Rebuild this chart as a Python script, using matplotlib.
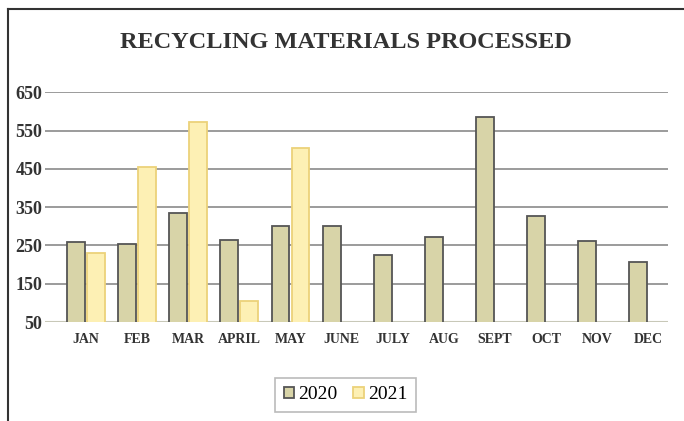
import matplotlib.pyplot as plt
import numpy as np

months = ['JAN', 'FEB', 'MAR', 'APRIL', 'MAY', 'JUNE', 'JULY', 'AUG',
          'SEPT', 'OCT', 'NOV', 'DEC']
vals_2020 = [258, 255, 335, 264, 300, 300, 225, 272, 585, 327, 261, 207]
vals_2021 = [230, 455, 572, 105, 504, 0, 0, 0, 0, 0, 0, 0]
yticks = [50, 150, 250, 350, 450, 550, 650]

plt.rcParams['font.family'] = ['Liberation Serif', 'DejaVu Serif']

fig = plt.figure(figsize=(6.84, 4.21), dpi=100)
ax = fig.add_axes([0.066, 0.235, 0.911, 0.546])

x = np.arange(len(months))
w = 0.35
ax.bar(x - w / 2 - 0.02, vals_2020, w, color='#d8d4a8', edgecolor='#555555',
       linewidth=1.3, label='2020', zorder=3)
ax.bar(x + w / 2 + 0.02, vals_2021, w, color='#fdf0b4', edgecolor='#ecd27a',
       linewidth=1.3, label='2021', zorder=3)

ax.set_ylim(50, 650)
ax.set_xlim(-0.8, 11.39)
ax.set_yticks(yticks)
ax.set_yticklabels([str(v) for v in yticks], fontsize=13, fontweight='bold',
                   color='#333333')
ax.set_xticks(x)
ax.set_xticklabels(months, fontsize=10, fontweight='bold', color='#333333')
ax.tick_params(length=0)
ax.tick_params(axis='y', pad=2)
ax.tick_params(axis='x', pad=8)

ax.grid(axis='y', color='#8a8a8a', linewidth=1.2, zorder=0)
for s in ax.spines.values():
    s.set_visible(False)
ax.axhline(50, color='#c8c8b8', linewidth=1.5, zorder=2)

fig.text(0.505, 0.898, 'RECYCLING MATERIALS PROCESSED', ha='center', va='center',
         fontsize=17.5, fontweight='bold', color='#333333')

leg = fig.legend(loc='center', bbox_to_anchor=(0.505, 0.062), ncols=2,
                 fontsize=14, frameon=True, fancybox=False, handlelength=0.55,
                 handleheight=0.55, handletextpad=0.2, columnspacing=0.8,
                 borderpad=0.45)
leg.get_frame().set_edgecolor('#aaaaaa')
leg.get_frame().set_linewidth(1.2)

# outer frame lines (left and top)
fig.add_artist(plt.Line2D([0.012, 0.012], [0.0, 0.978], color='#333333',
                          linewidth=1.5, transform=fig.transFigure))
fig.add_artist(plt.Line2D([0.012, 1.0], [0.978, 0.978], color='#333333',
                          linewidth=1.5, transform=fig.transFigure))

fig.savefig('out.png', dpi=100)
